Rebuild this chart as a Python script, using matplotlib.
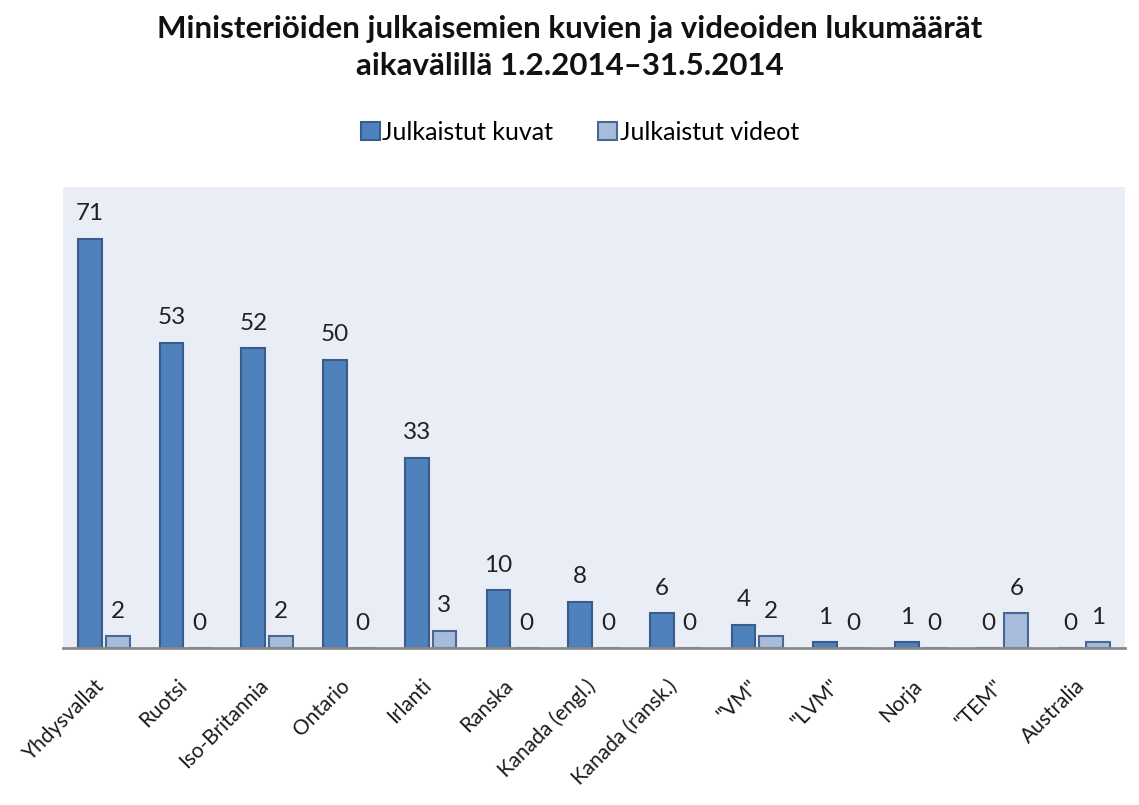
import matplotlib
matplotlib.use("Agg")
import matplotlib.pyplot as plt
import matplotlib.transforms as mtransforms
import numpy as np

categories = ["Yhdysvallat", "Ruotsi", "Iso-Britannia", "Ontario", "Irlanti", "Ranska",
              "Kanada (engl.)", "Kanada (ransk.)", "\"VM\"", "\"LVM\"", "Norja", "\"TEM\"", "Australia"]
kuvat = [71, 53, 52, 50, 33, 10, 8, 6, 4, 1, 1, 0, 0]
videot = [2, 0, 2, 0, 3, 0, 0, 0, 2, 0, 0, 6, 1]
series_names = ["Julkaistut kuvat", "Julkaistut videot"]
title_lines = ["Ministeriöiden julkaisemien kuvien ja videoiden lukumäärät",
               "aikavälillä 1.2.2014–31.5.2014"]

plt.rcParams['font.family'] = ['Lato', 'DejaVu Sans']

fig = plt.figure(figsize=(11.39, 8.05), dpi=100)
fig.patch.set_facecolor('white')
ax = fig.add_axes([0.0553, 0.195, 0.9324, 0.5727])
ax.set_facecolor('#e9edf5')

x = np.arange(len(categories))
w = 0.29
off = 0.17
c1, e1 = '#4f81bd', '#385d8a'
c2, e2 = '#a7bbdb', '#4a6896'
b1 = ax.bar(x - off, kuvat, w, color=c1, edgecolor=e1, linewidth=1.5, label=series_names[0])
b2 = ax.bar(x + off, videot, w, color=c2, edgecolor=e2, linewidth=1.5, label=series_names[1])

for xi, v in zip(x - off, kuvat):
    ax.annotate(str(v), (xi, v), xytext=(0, 18), textcoords='offset points',
                ha='center', va='center', fontsize=17.5, color='#222222')
for xi, v in zip(x + off, videot):
    ax.annotate(str(v), (xi, v), xytext=(0, 18), textcoords='offset points',
                ha='center', va='center', fontsize=17.5, color='#222222')

ax.set_xlim(-0.5, len(categories) - 0.5)
ax.set_ylim(0, 80)
ax.set_yticks([])
ax.set_xticks(x)
ax.set_xticklabels(categories, rotation=45, ha='right', va='center', rotation_mode='anchor',
                   fontsize=15, color='#1a1a1a')
ax.tick_params(axis='x', length=0, pad=25)
shift = mtransforms.ScaledTranslation(-2 / 100, 0, fig.dpi_scale_trans)
for lbl in ax.get_xticklabels():
    lbl.set_transform(lbl.get_transform() + shift)
for s in ['top', 'right', 'left']:
    ax.spines[s].set_visible(False)
ax.spines['bottom'].set_color('#8a8a8a')
ax.spines['bottom'].set_linewidth(2)

fig.text(0.5, 1 - 29 / 805, title_lines[0], ha='center', va='center', fontsize=22.5,
         fontweight='bold', color='#111111')
fig.text(0.5, 1 - 66 / 805, title_lines[1], ha='center', va='center', fontsize=22.5,
         fontweight='bold', color='#111111')

fig.legend(handles=[b1, b2], labels=series_names, loc='center', bbox_to_anchor=(580 / 1139, 1 - 132 / 805),
           ncol=2, frameon=False, fontsize=18, handlelength=0.75, handleheight=0.75,
           handletextpad=0.1, columnspacing=1.8)

fig.savefig("out.png", dpi=100)
